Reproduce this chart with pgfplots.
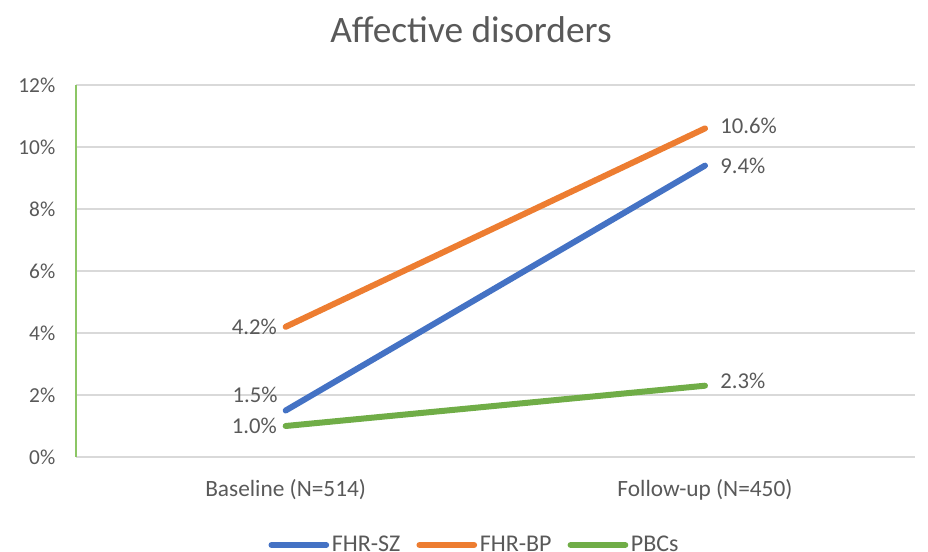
\documentclass[border=0pt]{standalone}
\usepackage{pgfplots}
\pgfplotsset{compat=1.18}
\usepackage{fontspec}
\setmainfont{Carlito}
\definecolor{txt}{HTML}{595959}
\definecolor{sz}{HTML}{4472C4}
\definecolor{bp}{HTML}{ED7D31}
\definecolor{pbc}{HTML}{70AD47}
\definecolor{gridc}{HTML}{D9D9D9}
\definecolor{yaxis}{HTML}{8CC665}

\begin{document}
\begin{tikzpicture}[x=0.75pt,y=0.75pt]
\path[use as bounding box] (0,0) rectangle (928,551);
\coordinate (plotorigin) at (76,94);
\node[txt,font=\fontsize{28}{33}\selectfont] at (471,521) {Affective disorders};
\begin{axis}[
  at={(plotorigin)}, anchor=south west, scale only axis,
  width=629pt, height=279pt,
  xmin=-0.5, xmax=1.5, ymin=0, ymax=12,
  xtick={0,1}, xticklabels={Baseline (N=514), Follow-up (N=450)},
  ytick={0,2,...,12},
  /pgf/number format/assume math mode=true,
  yticklabel={\pgfmathprintnumber{\tick}\%},
  ymajorgrids, grid style={gridc, line width=1.1pt},
  axis line style={draw=none},
  major tick length=0pt,
  tick label style={txt, font=\fontsize{16}{19}\selectfont},
  yticklabel style={xshift=-12pt},
  xticklabel style={yshift=-13pt, font=\fontsize{17.5}{21}\selectfont},
  clip=false,
  point meta=y,
  nodes near coords={\pgfmathprintnumber[fixed,fixed zerofill,precision=1]{\pgfplotspointmeta}\%},
  every node near coord/.append style={txt, font=\fontsize{17}{20}\selectfont},
  legend columns=3,
  legend style={at={(0.4756,-0.2366)}, anchor=center, draw=none, fill=none,
    font=\fontsize{18}{21}\selectfont, text=txt,
    /tikz/every even column/.style={column sep=10pt}},
  legend image code/.code={\draw[#1,line cap=round] (0pt,0pt) -- (41pt,0pt);},
]
\addplot[sz, line width=4.5pt, line cap=round,
  coordinate style/.condition={x==0}{anchor=east, xshift=-0.5pt, yshift=12pt},
  coordinate style/.condition={x==1}{anchor=west, xshift=6pt}]
  coordinates {(0,1.5) (1,9.4)};
\addplot[bp, line width=4.5pt, line cap=round,
  coordinate style/.condition={x==0}{anchor=east, xshift=-1pt},
  coordinate style/.condition={x==1}{anchor=west, xshift=6pt, yshift=2pt}]
  coordinates {(0,4.2) (1,10.6)};
\addplot[pbc, line width=4.5pt, line cap=round,
  coordinate style/.condition={x==0}{anchor=east, xshift=-1pt},
  coordinate style/.condition={x==1}{anchor=west, xshift=6pt, yshift=4pt}]
  coordinates {(0,1.0) (1,2.3)};
\legend{FHR-SZ, FHR-BP, PBCs}
\draw[yaxis, line width=1.5pt] (rel axis cs:0,0) -- (rel axis cs:0,1);
\end{axis}
\end{tikzpicture}
\end{document}
